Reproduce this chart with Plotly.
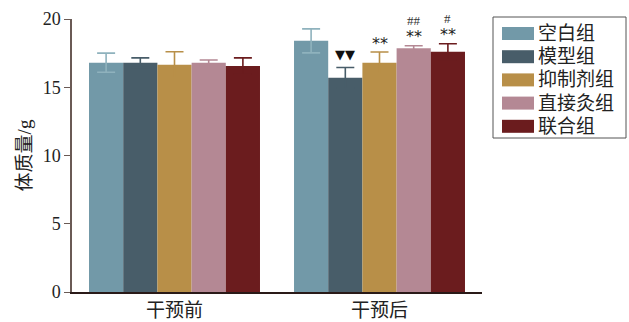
import plotly.graph_objects as go

# Body-weight data (g), mean ± SD, before and after intervention
stages = ["干预前", "干预后"]
groups = ["空白组", "模型组", "抑制剂组", "直接灸组", "联合组"]
means = {
    "空白组": [16.8, 18.4],
    "模型组": [16.8, 15.7],
    "抑制剂组": [16.65, 16.8],
    "直接灸组": [16.8, 17.85],
    "联合组": [16.55, 17.6],
}
sds = {
    "空白组": [0.7, 0.88],
    "模型组": [0.35, 0.75],
    "抑制剂组": [0.95, 0.78],
    "直接灸组": [0.2, 0.19],
    "联合组": [0.6, 0.59],
}
# significance marks for the post-intervention group (lower row, upper row)
marks = {
    "模型组": ["▼▼", ""],
    "抑制剂组": ["**", ""],
    "直接灸组": ["**", "##"],
    "联合组": ["**", "#"],
}

colors = ["#7299a8", "#485d69", "#b88f48", "#b48894", "#6b1c1e"]
err_colors = ["#8fb2bd", "#485d69", "#b88f48", "#b48894", "#6b1c1e"]

serif = "Liberation Serif, Times New Roman, Noto Sans CJK SC, serif"

# plot-area geometry in pixels
W, H = 629, 322
L, R, T, B = 72, 147, 19, 30
pw, ph = W - L - R, H - T - B


def px_x(p):
    return (p - L) / pw


def px_y(p):
    return (H - B - p) / ph


fig = go.Figure()
for g, c, ec in zip(groups, colors, err_colors):
    fig.add_trace(go.Bar(
        name=g, x=stages, y=means[g],
        marker=dict(color=c, line=dict(width=0)),
        error_y=dict(type="data", array=sds[g], color=ec, thickness=1.6, width=9),
        showlegend=False,
    ))

group_w = 0.834
n = len(groups)
for i, g in enumerate(groups):
    if g not in marks:
        continue
    xpos = 1 + (i - (n - 1) / 2) * group_w / n
    top = means[g][1] + sds[g][1]
    low, high = marks[g]
    if low == "▼▼":
        fig.add_annotation(x=xpos, y=top, xref="x", yref="y", text=low, showarrow=False,
                           yanchor="bottom", yshift=3,
                           font=dict(family="DejaVu Sans", size=13, color="#111"))
    else:
        fig.add_annotation(x=xpos, y=top, xref="x", yref="y", text=low, showarrow=False,
                           yanchor="middle", yshift=9,
                           font=dict(family="DejaVu Sans", size=16, color="#222"))
    if high:
        fig.add_annotation(x=xpos, y=top, xref="x", yref="y", text=high, showarrow=False,
                           yanchor="middle", yshift=25,
                           font=dict(family=serif, size=13, color="#333"))

# legend box with wide colour swatches
leg_left, leg_right, leg_top, leg_bot = 493, 626, 17, 138
row0, row_h = 33.5, 23.2
fig.add_shape(type="rect", xref="paper", yref="paper",
              x0=px_x(leg_left), x1=px_x(leg_right), y0=px_y(leg_bot), y1=px_y(leg_top),
              line=dict(color="#555", width=1), fillcolor="white")
for i, (g, c) in enumerate(zip(groups, colors)):
    cy = row0 + i * row_h
    fig.add_shape(type="rect", xref="paper", yref="paper",
                  x0=px_x(502), x1=px_x(534), y0=px_y(cy + 6.5), y1=px_y(cy - 6.5),
                  line=dict(width=0), fillcolor=c)
    fig.add_annotation(x=px_x(536), y=px_y(cy), xref="paper", yref="paper", text=g,
                       showarrow=False, xanchor="left", yanchor="middle",
                       font=dict(family=serif, size=19, color="#222"))

fig.update_layout(
    width=W, height=H,
    margin=dict(l=L, r=R, t=T, b=B),
    paper_bgcolor="white", plot_bgcolor="white",
    barmode="group", bargap=0.166, bargroupgap=0,
    font=dict(family=serif, size=17, color="#222"),
    showlegend=False,
    xaxis=dict(range=[-0.5, 1.5], showline=True, linecolor="#2a1a18", linewidth=1.5,
               ticks="", tickfont=dict(size=19), showgrid=False, zeroline=False,
               automargin=False),
    yaxis=dict(range=[0, 20], tickvals=[0, 5, 10, 15, 20], showline=True,
               linecolor="#6a5a55", linewidth=1.5, ticks="outside", ticklen=6,
               tickcolor="#6a5a55", tickfont=dict(size=18), showgrid=False, zeroline=False,
               automargin=False,
               title=dict(text="体质量/g", font=dict(size=19), standoff=6)),
)

fig.write_html("out.html")
